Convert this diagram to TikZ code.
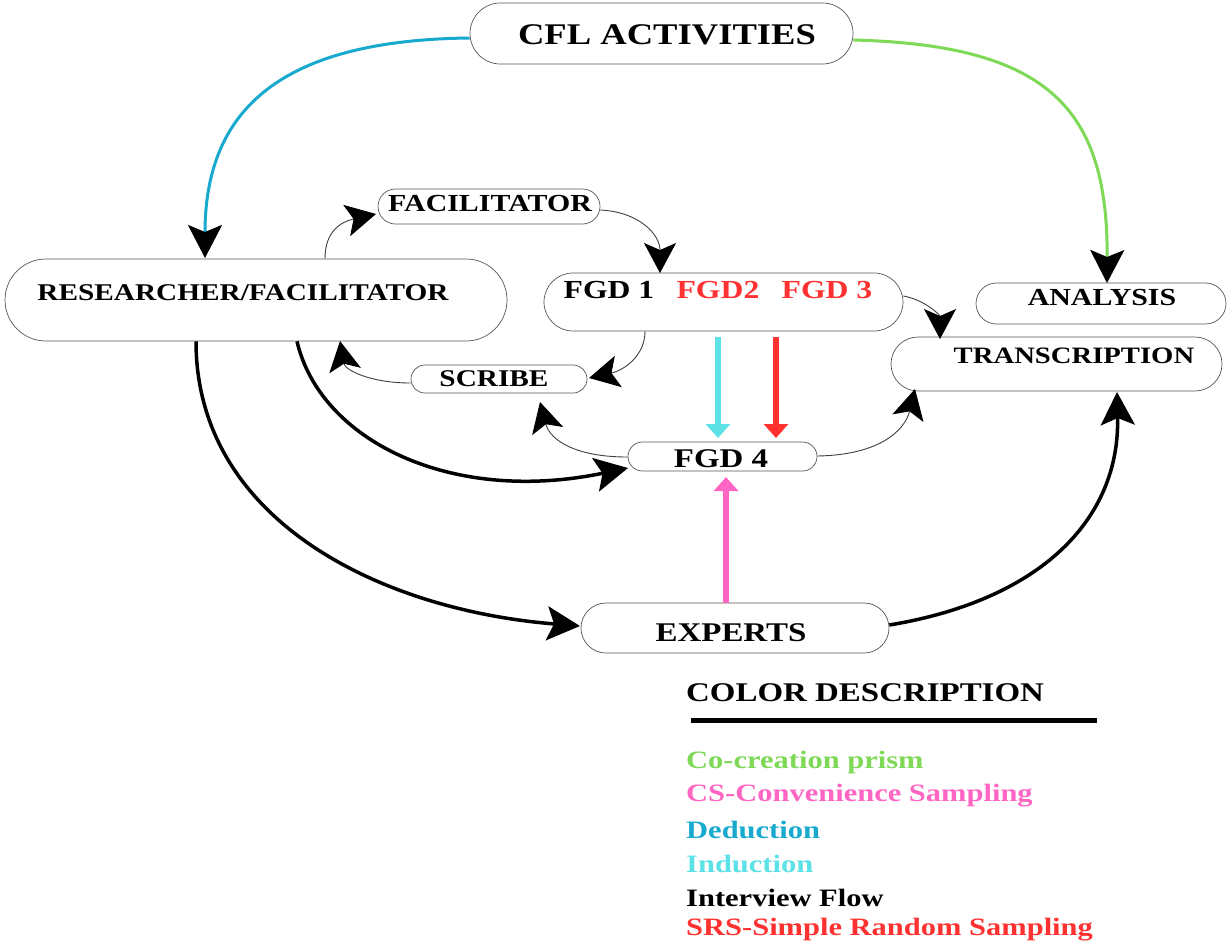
\documentclass[tikz,border=0pt]{standalone}
\usepackage{fontspec}
\setmainfont{Liberation Serif}[FakeStretch=1.22]
\usetikzlibrary{shapes.misc,arrows.meta}
\definecolor{cgreen}{HTML}{7ED957}
\definecolor{cpink}{HTML}{FF66C4}
\definecolor{cded}{HTML}{17A9CE}
\definecolor{cind}{HTML}{5CE1E6}
\definecolor{cred}{HTML}{FF3131}
\definecolor{cbord}{HTML}{555555}
\tikzset{
  pill/.style={rounded rectangle, draw=cbord, line width=0.7pt, inner sep=0pt, fill=white},
  lbl/.style={font=\fontsize{25}{30}\selectfont\bfseries, inner sep=0pt},
  leg/.style={font=\fontsize{25}{30}\selectfont\bfseries, inner sep=0pt, anchor=west},
  thinconn/.style={draw=black!75, line width=0.9pt, -{Stealth[length=30pt,width=32pt,inset=7pt,color=black]}},
  thickconn/.style={draw=black, line width=3.5pt, -{Stealth[length=33pt,width=34pt,inset=7pt]}},
  colcurve/.style={line width=3pt, -{Stealth[length=33pt,width=34pt,inset=7pt,color=black]}},
  colarrow/.style={line width=6pt, -{Triangle[length=14pt,width=24pt]}},
}
\begin{document}
\begin{tikzpicture}[x=1pt,y=-1pt]
\useasboundingbox[fill=white] (0,0) rectangle (1228,943);
% boxes
\node[pill, minimum width=383pt, minimum height=61pt] (cfl) at (661.5,33.5) {};
\node[pill, minimum width=502pt, minimum height=82pt] (res) at (256,300) {};
\node[pill, minimum width=222pt, minimum height=35pt] (fac) at (489,206.5) {};
\node[pill, minimum width=176pt, minimum height=28pt] (scr) at (499,379) {};
\node[pill, minimum width=359pt, minimum height=58pt] (fgd) at (723.5,302) {};
\node[pill, minimum width=250pt, minimum height=41pt] (ana) at (1101,303.5) {};
\node[pill, minimum width=331pt, minimum height=54pt] (tra) at (1056.5,364) {};
\node[pill, minimum width=189pt, minimum height=29pt] (fgdf) at (722.5,456.5) {};
\node[pill, minimum width=308pt, minimum height=50pt] (exp) at (735,628) {};
% texts
\node[lbl, font=\fontsize{30}{36}\selectfont\bfseries] (cflt) at (667,35) {CFL ACTIVITIES};
\node[lbl, font=\fontsize{24}{29}\selectfont\bfseries] (rest) at (243,293) {RESEARCHER/FACILITATOR};
\node[lbl, font=\fontsize{24.5}{29}\selectfont\bfseries] (fact) at (490,204) {FACILITATOR};
\node[lbl, font=\fontsize{24}{29}\selectfont\bfseries] (scrt) at (494,379) {SCRIBE};
\node[lbl, font=\fontsize{26}{31}\selectfont\bfseries] (fgdt1) at (609,290) {FGD 1};
\node[lbl, font=\fontsize{26}{31}\selectfont\bfseries, text=cred] (fgdt2) at (718,290) {FGD2};
\node[lbl, font=\fontsize{26}{31}\selectfont\bfseries, text=cred] (fgdt3) at (827,290) {FGD 3};
\node[lbl, font=\fontsize{24.5}{29}\selectfont\bfseries] (anat) at (1102,298) {ANALYSIS};
\node[lbl, font=\fontsize{23.5}{28}\selectfont\bfseries] (trat) at (1074,356) {TRANSCRIPTION};
\node[lbl, font=\fontsize{27}{32}\selectfont\bfseries] (fgdft) at (721,459) {FGD 4};
\node[lbl, font=\fontsize{27}{32}\selectfont\bfseries] (expt) at (731,633) {EXPERTS};
% legend
\node[leg, font=\fontsize{27}{32}\selectfont\bfseries] (legh) at (686,693) {COLOR DESCRIPTION};
\coordinate (lineA) at (691,720);
\coordinate (lineB) at (1097,720);
\draw[line width=5pt] (lineA) -- (lineB);
\node[leg, text=cgreen] (l1) at (686,762) {Co-creation prism};
\node[leg, text=cpink] (l2) at (686,796) {CS-Convenience Sampling};
\node[leg, text=cded] (l3) at (686,830) {Deduction};
\node[leg, text=cind] (l4) at (686,864) {Induction};
\node[leg] (l5) at (686,898) {Interview Flow};
\node[leg, text=cred] (l6) at (686,930) {SRS-Simple Random Sampling};
% coloured curves
\draw[colcurve, draw=cded] (cfl.west |- 0,38) .. controls (280,40) and (205,110) .. (205,258);
\draw[colcurve, draw=cgreen] (cfl.east |- 0,40) .. controls (1050,45) and (1108,110) .. (1107,283);
% thin connectors
\draw[thinconn] (res.north -| 325,0) .. controls (325,232) and (340,222) .. (376,214);
\draw[thinconn] (fac.east |- 0,210) .. controls (640,212) and (660,235) .. (660,273);
\draw[thinconn] (fgd.east |- 0,296) .. controls (925,300) and (940,315) .. (940,339);
\draw[thinconn] (fgd.south -| 645,0) .. controls (645,355) and (625,370) .. (589,378);
\draw[thinconn] (scr.west |- 0,383) .. controls (370,383) and (345,370) .. (340,341);
\draw[thinconn] (fgdf.west |- 0,457) .. controls (575,457) and (550,440) .. (540,402);
\draw[thinconn] (fgdf.east |- 0,456) .. controls (880,455) and (905,430) .. (915,389);
% thick connectors
\draw[thickconn] (res.south -| 297,0) .. controls (320,440) and (450,505) .. (628,468);
\draw[thickconn] (res.south -| 196,0) .. controls (196,520) and (380,610) .. (580,626);
\draw[thickconn] (exp.east |- 0,625) .. controls (1040,600) and (1120,520) .. (1117,392);
% straight coloured arrows
\draw[colarrow, draw=cind, fill=cind] (718,337) -- (718,438);
\draw[colarrow, draw=cred, fill=cred] (776,337) -- (776,438);
\draw[colarrow, draw=cpink, fill=cpink] (exp.north -| 726,0) -- (726,477);
\end{tikzpicture}
\end{document}
